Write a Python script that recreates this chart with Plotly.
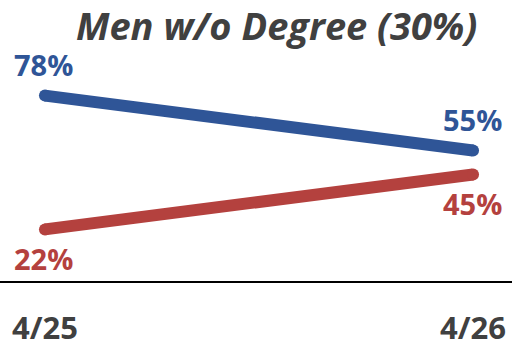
import plotly.graph_objects as go

dates = ["4/25", "4/26"]
blue_vals = [78, 55]
red_vals = [22, 45]

BLUE = "#2F5597"
RED = "#B4413E"
GRAY = "#404040"
FONT = "Open Sans"

fig = go.Figure()

for vals, color, shift in [(blue_vals, BLUE, 31), (red_vals, RED, -29)]:
    fig.add_trace(
        go.Scatter(
            x=dates,
            y=vals,
            mode="lines+markers",
            line=dict(color=color, width=12),
            marker=dict(color=color, size=12),
            hoverinfo="skip",
        )
    )
    for d, v in zip(dates, vals):
        fig.add_annotation(
            x=d,
            y=v,
            text=f"{v}%",
            showarrow=False,
            yshift=shift,
            xshift=-1,
            font=dict(family=FONT, size=29, color=color, weight="bold"),
        )

fig.add_annotation(
    x=0.54,
    y=1.0,
    xref="paper",
    yref="paper",
    yanchor="middle",
    yshift=18,
    text="<b><i>Men w/o Degree (30%)</i></b>",
    showarrow=False,
    font=dict(family=FONT, size=38, color=GRAY),
)

fig.update_layout(
    width=512,
    height=348,
    showlegend=False,
    plot_bgcolor="white",
    paper_bgcolor="white",
    margin=dict(l=0, r=0, t=43, b=66, autoexpand=False),
)
fig.update_xaxes(
    type="category",
    range=[-0.105, 1.091],
    showgrid=False,
    showline=False,
    zeroline=False,
    ticks="",
    tickfont=dict(family=FONT, size=31, color=GRAY, weight="bold"),
    ticklabelstandoff=25,
)
fig.update_yaxes(
    range=[0, 100],
    showgrid=False,
    showticklabels=False,
    zeroline=True,
    zerolinecolor="black",
    zerolinewidth=2,
    showline=False,
)

fig.write_html(
    "out.html",
    config={"displayModeBar": False},
    post_script="document.body.style.margin='0';",
)
